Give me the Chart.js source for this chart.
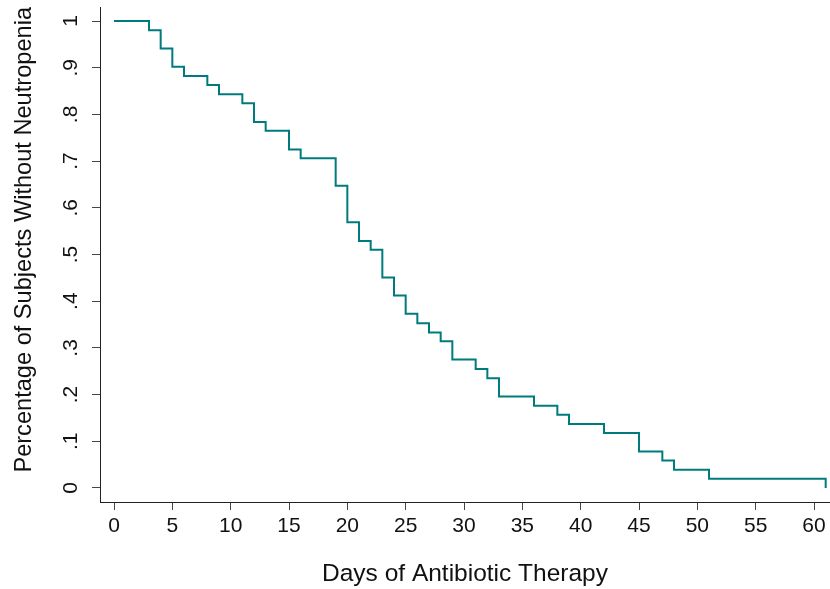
<!DOCTYPE html>
<html><head><meta charset="utf-8">
<script src="https://cdn.jsdelivr.net/npm/chart.js@4.4.0/dist/chart.umd.min.js"></script>
<style>html,body{margin:0;padding:0;background:#fff}canvas{display:block}</style>
</head><body>
<canvas id="c" width="830" height="589"></canvas>
<script>
const days = [0, 3, 4, 5, 6, 8, 9, 11, 12, 13, 15, 16, 19, 20, 21, 22, 23, 24, 25, 26, 27, 28, 29, 31, 32, 33, 36, 38, 39, 42, 45, 47, 48, 51, 61];
const survival = [1, 0.980, 0.941, 0.902, 0.882, 0.863, 0.843, 0.824, 0.784, 0.765, 0.725, 0.706, 0.647, 0.569, 0.529, 0.510, 0.451, 0.412, 0.373, 0.353, 0.333, 0.314, 0.275, 0.255, 0.235, 0.196, 0.176, 0.157, 0.137, 0.118, 0.078, 0.059, 0.039, 0.020, 0];
const xTicks = [0, 5, 10, 15, 20, 25, 30, 35, 40, 45, 50, 55, 60];
const yTicks = [0, 0.1, 0.2, 0.3, 0.4, 0.5, 0.6, 0.7, 0.8, 0.9, 1];
const yTickLabels = ['0', '.1', '.2', '.3', '.4', '.5', '.6', '.7', '.8', '.9', '1'];
const xTitle = 'Days of Antibiotic Therapy';
const yTitle = 'Percentage of Subjects Without Neutropenia';

const FONT = "'Liberation Sans', Arial, Helvetica, sans-serif";
new Chart(document.getElementById('c'), {
  type: 'line',
  data: {
    datasets: [{
      data: days.map((d, i) => ({ x: d, y: survival[i] })),
      borderColor: '#007b7d',
      borderWidth: 2,
      stepped: 'before',
      pointRadius: 0,
      fill: false,
      tension: 0
    }]
  },
  options: {
    responsive: false,
    animation: false,
    devicePixelRatio: 1,
    layout: { padding: { top: 7, right: 0, bottom: 0, left: 0 } },
    plugins: { legend: { display: false }, tooltip: { enabled: false } },
    scales: {
      x: {
        type: 'linear', min: -1.2, max: 61.37,
        afterBuildTicks: s => { s.ticks = xTicks.map(v => ({ value: v })); },
        afterFit: s => { s.height = 87; s.paddingLeft = 0; s.paddingRight = 0; },
        grid: { drawOnChartArea: false, drawTicks: true, tickLength: 8, tickColor: '#444', tickWidth: 1 },
        border: { display: true, color: '#222', width: 1 },
        ticks: { font: { family: FONT, size: 21 }, color: '#111', padding: 4, maxRotation: 0, minRotation: 0, autoSkip: false },
        title: { display: true, text: xTitle, font: { family: FONT, size: 24.5 }, color: '#111', padding: { top: 0, bottom: 0 } }
      },
      y: {
        type: 'linear', min: -0.03, max: 1.03,
        afterBuildTicks: s => { s.ticks = yTicks.map(v => ({ value: v })); },
        afterFit: s => { s.width = 100; s.paddingTop = 0; s.paddingBottom = 0; },
        grid: { drawOnChartArea: false, drawTicks: true, tickLength: 8, tickColor: '#444', tickWidth: 1 },
        border: { display: true, color: '#222', width: 1 },
        ticks: {
          callback: (v, i) => yTickLabels[i],
          font: { family: FONT, size: 21 }, color: '#111',
          minRotation: 90, maxRotation: 90, crossAlign: 'center', padding: 12.5, autoSkip: false
        },
        title: { display: true, text: yTitle, align: 'end', font: { family: FONT, size: 23.6 }, color: '#111', padding: { top: 10, bottom: 0 } }
      }
    }
  }
});
</script>
</body></html>
